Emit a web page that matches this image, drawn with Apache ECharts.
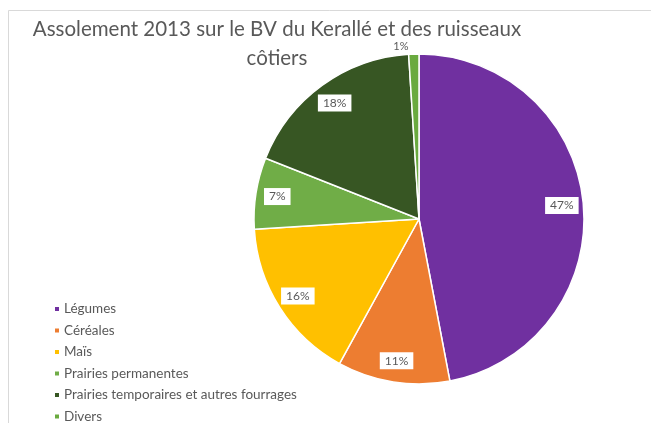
<!DOCTYPE html>
<html>
<head>
<meta charset="utf-8">
<script src="https://cdn.jsdelivr.net/npm/echarts@6/dist/echarts.min.js"></script>
<style>
	html, body { margin: 0; padding: 0; background: #fff; }
	#main { width: 651px; height: 423px; }
</style>
</head>
<body>
<div id="main"></div>
<script>
// données
var categories = ['Légumes', 'Céréales', 'Maïs', 'Prairies permanentes', 'Prairies temporaires et autres fourrages', 'Divers'];
var values = [47, 11, 16, 7, 18, 1];
var colors = ['#7030a0', '#ed7d31', '#ffc000', '#70ad47', '#375623', '#6aaa3f'];

var chart = echarts.init(document.getElementById('main'));

var mainData = categories.map(function (name, i) {
	return {
		name: name,
		value: values[i],
		itemStyle: { color: colors[i] },
		// seul le petit secteur a son étiquette à l'extérieur
		label: { show: i === categories.length - 1 }
	};
});
var labelData = categories.map(function (name, i) {
	return {
		name: name,
		value: values[i],
		label: { show: i !== categories.length - 1 }
	};
});

var option = {
	backgroundColor: '#fff',
	color: colors,
	title: {
		text: 'Assolement 2013 sur le BV du Kerallé et des ruisseaux\ncôtiers',
		left: 272,
		top: 10,
		textAlign: 'center',
		textStyle: {
			fontFamily: 'Lato',
			fontWeight: 'normal',
			fontSize: 20.5,
			lineHeight: 29,
			color: '#595959'
		}
	},
	legend: {
		orient: 'vertical',
		left: 48,
		top: 296,
		height: 140,
		icon: 'rect',
		itemWidth: 6,
		itemHeight: 6,
		itemGap: 5.5,
		data: categories,
		textStyle: {
			fontFamily: 'Lato',
			fontSize: 13.5,
			lineHeight: 16,
			color: '#595959',
			padding: [0, 0, 0, -1]
		}
	},
	graphic: [{
		type: 'polyline',
		silent: true,
		shape: { points: [[8.5, 423], [8.5, 10.5], [651, 10.5]] },
		style: { stroke: '#d9d9d9', lineWidth: 1, fill: null }
	}],
	series: [{
		name: 'Assolement',
		type: 'pie',
		center: [419, 219],
		radius: [0, 165],
		startAngle: 90,
		clockwise: true,
		avoidLabelOverlap: false,
		itemStyle: { borderColor: '#fff', borderWidth: 1.5 },
		label: {
			position: 'outside',
			formatter: '{d}%',
			fontFamily: 'Lato',
			fontSize: 11,
			color: '#595959'
		},
		labelLine: { show: false, length: 8, length2: 0 },
		emphasis: { disabled: true },
		data: mainData
	}, {
		name: 'étiquettes',
		type: 'pie',
		center: [419, 219],
		radius: [116, 165],
		startAngle: 90,
		clockwise: true,
		silent: true,
		itemStyle: { color: 'transparent', borderWidth: 0 },
		label: {
			position: 'inside',
			formatter: '{d}%',
			fontFamily: 'Lato',
			fontSize: 12,
			color: '#595959',
			backgroundColor: '#fff',
			padding: [3, 5, 2, 5]
		},
		labelLine: { show: false },
		emphasis: { disabled: true },
		data: labelData
	}]
};
chart.setOption(option);
</script>
</body>
</html>
